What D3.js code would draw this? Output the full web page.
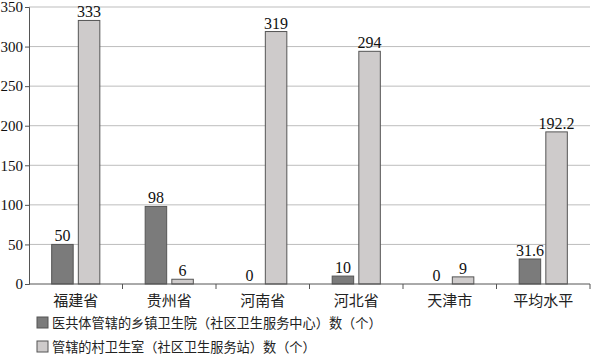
<!DOCTYPE html>
<html>
<head>
<meta charset="utf-8">
<script src="https://cdn.jsdelivr.net/npm/d3@7"></script>
<style>
  body { margin: 0; background: #fff; }
  text.num { font-family: "Liberation Serif", "DejaVu Serif", serif; }
  text.cjk { font-family: "Noto Sans CJK SC", sans-serif; }
</style>
</head>
<body>
<div class="chart"></div>
<script>
var categories = ["福建省", "贵州省", "河南省", "河北省", "天津市", "平均水平"];
var townshipValues = [50, 98, 0, 10, 0, 31.6];
var villageValues = [333, 6, 319, 294, 9, 192.2];
var seriesNames = ["医共体管辖的乡镇卫生院（社区卫生服务中心）数（个）", "管辖的村卫生室（社区卫生服务站）数（个）"];
var yTicks = [0, 50, 100, 150, 200, 250, 300, 350];

var svgWidth = 594;
var svgHeight = 355;
var margin = { top: 7, right: 4, bottom: 71, left: 29 };
var width = svgWidth - margin.left - margin.right;
var height = svgHeight - margin.top - margin.bottom;

var colors = ["#7b7b7b", "#cecbcb"];

var svg = d3.select(".chart")
  .append("svg")
  .attr("width", svgWidth)
  .attr("height", svgHeight);

var chartGroup = svg.append("g")
  .attr("transform", `translate(${margin.left}, ${margin.top})`);

var xScale = d3.scaleBand()
  .domain(categories)
  .range([0, width]);

var yScale = d3.scaleLinear()
  .domain([0, 350])
  .range([height, 0]);

// gridlines
chartGroup.selectAll(".grid")
  .data(yTicks.slice(1))
  .enter()
  .append("line")
  .attr("x1", 0)
  .attr("x2", width)
  .attr("y1", d => yScale(d))
  .attr("y2", d => yScale(d))
  .attr("stroke", "#bdbdbd")
  .attr("stroke-width", 1);

// bars
var barW = xScale.bandwidth() * 0.23;
var gap = xScale.bandwidth() * 0.055;
var series = [townshipValues, villageValues];

series.forEach(function(vals, s) {
  var offset = xScale.bandwidth() / 2 + (s === 0 ? -gap / 2 - barW : gap / 2);
  var data = categories.map((c, i) => ({ cat: c, v: vals[i] }));

  chartGroup.selectAll(".bar" + s)
    .data(data.filter(d => d.v > 0))
    .enter()
    .append("rect")
    .attr("x", d => xScale(d.cat) + offset)
    .attr("y", d => yScale(d.v))
    .attr("width", barW)
    .attr("height", d => height - yScale(d.v))
    .attr("fill", colors[s])
    .attr("stroke", "#555")
    .attr("stroke-width", 1);

  chartGroup.selectAll(".label" + s)
    .data(data)
    .enter()
    .append("text")
    .attr("class", "num")
    .attr("x", d => xScale(d.cat) + offset + barW / 2)
    .attr("y", d => yScale(d.v) - 3)
    .attr("text-anchor", "middle")
    .attr("font-size", 16)
    .attr("fill", "#111")
    .text(d => d.v);
});

// axes
var leftAxis = d3.axisLeft(yScale).tickValues(yTicks).tickSize(4).tickPadding(2);

var xAxisG = chartGroup.append("g")
  .attr("transform", `translate(0, ${height})`);
xAxisG.append("line")
  .attr("x1", 0)
  .attr("x2", width)
  .attr("stroke", "#555");
// ticks on category boundaries
xAxisG.selectAll(".btick")
  .data(categories)
  .enter()
  .append("line")
  .attr("x1", d => xScale(d) + xScale.step())
  .attr("x2", d => xScale(d) + xScale.step())
  .attr("y1", 0)
  .attr("y2", 5)
  .attr("stroke", "#555");

xAxisG.selectAll(".catlabel")
  .data(categories)
  .enter()
  .append("text")
  .attr("class", "cjk")
  .attr("x", d => xScale(d) + xScale.bandwidth() / 2)
  .attr("y", 22)
  .attr("text-anchor", "middle")
  .attr("font-size", 15)
  .attr("fill", "#222")
  .text(d => d);

var yAxisG = chartGroup.append("g").call(leftAxis);
yAxisG.attr("font-family", null);
yAxisG.select(".domain").attr("stroke", "#555");
yAxisG.selectAll(".tick line").attr("stroke", "#555");
yAxisG.selectAll(".tick text")
  .attr("class", "num")
  .attr("font-size", 15)
  .attr("fill", "#111");

// legend
var legend = svg.append("g")
  .attr("transform", "translate(37, 317)");

seriesNames.forEach(function(name, i) {
  var g = legend.append("g").attr("transform", `translate(0, ${i * 24})`);
  g.append("rect")
    .attr("x", 0)
    .attr("y", 0)
    .attr("width", 11)
    .attr("height", 11)
    .attr("fill", colors[i])
    .attr("stroke", "#555");
  g.append("text")
    .attr("class", "cjk")
    .attr("x", 15)
    .attr("y", 10.5)
    .attr("font-size", 13.2)
    .attr("fill", "#222")
    .text(name);
});
</script>
</body>
</html>
